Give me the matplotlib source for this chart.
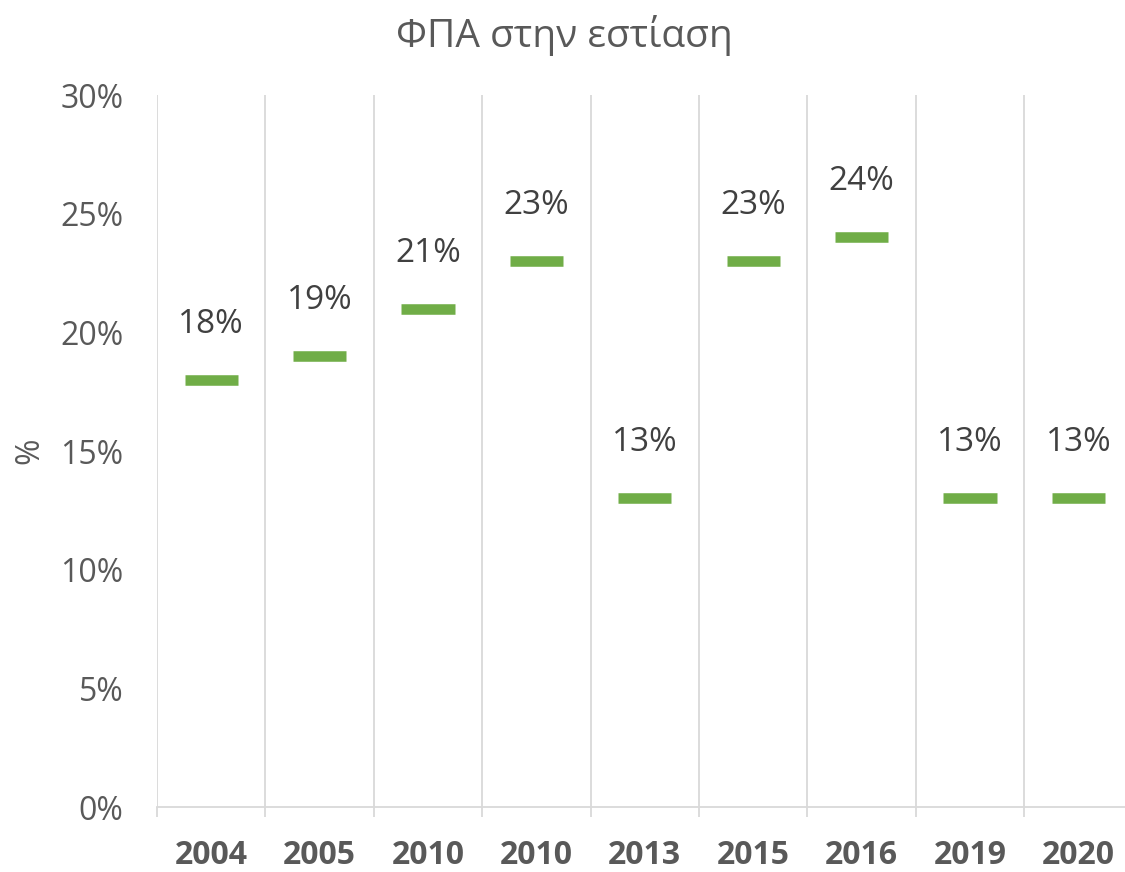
import matplotlib
matplotlib.use('Agg')
import matplotlib.pyplot as plt
import numpy as np

years = ['2004', '2005', '2010', '2010', '2013', '2015', '2016', '2019', '2020']
vat = [18, 19, 21, 23, 13, 23, 24, 13, 13]  # %
yticks = [0, 5, 10, 15, 20, 25, 30]

plt.rcParams['font.family'] = ['Open Sans', 'DejaVu Sans']

grey = '#595959'
grid_c = '#D9D9D9'
green = '#70AD47'

fig = plt.figure(figsize=(11.25, 8.72), dpi=100)
ax = fig.add_axes([157 / 1125, 65 / 872, 975.6 / 1125, 712 / 872])

x = np.arange(len(years))
ax.hlines(vat, x - 0.245, x + 0.245, colors=green, linewidth=7.6, capstyle='butt')

for xi, v in zip(x, vat):
    ax.annotate(f'{v}%', (xi, v), xytext=(0, 40), textcoords='offset points',
                ha='center', va='center', fontsize=24, color='#404040')

ax.set_xlim(-0.5, len(years) - 0.5)
ax.set_ylim(0, 30)

ax.set_xticks(x)
ax.set_xticklabels(years, fontsize=23, fontweight='bold', color=grey)
ax.set_xticks(np.arange(len(years) + 1) - 0.5, minor=True)
ax.tick_params(axis='x', which='major', length=0, pad=23)
ax.tick_params(axis='x', which='minor', length=7, color=grid_c, width=1.3)
ax.grid(axis='x', which='minor', color=grid_c, linewidth=1.3)
ax.set_axisbelow(True)

ax.set_yticks(yticks)
ax.set_yticklabels([f'{t}%' for t in yticks], fontsize=23, color=grey)
ax.tick_params(axis='y', length=0, pad=24)
ax.set_ylabel('%', fontsize=23, color=grey, labelpad=10)

for side in ['top', 'right', 'left']:
    ax.spines[side].set_visible(False)
ax.spines['bottom'].set_color(grid_c)
ax.spines['bottom'].set_linewidth(1.3)

fig.text(564 / 1125, 1 - 35 / 872, 'ΦΠΑ στην εστίαση', ha='center', va='center',
         fontsize=28, color=grey)

fig.savefig('out.png', dpi=100)
